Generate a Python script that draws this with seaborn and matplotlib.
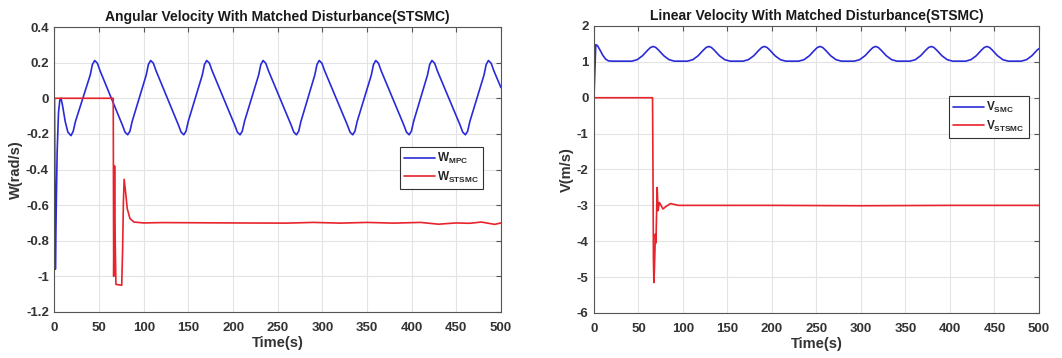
import matplotlib
matplotlib.use("Agg")
import matplotlib.pyplot as plt
import seaborn as sns
import pandas as pd

# ---------------- data ----------------
w_mpc_t = [0, 0.5, 1.0, 2.0, 3.0, 4.5, 6.0, 7.3, 9.0, 12.0, 15.0, 18.5, 21.0, 23.5,
           40.0, 42.5, 45.0, 48.0, 51.0,
           76.0, 79.0, 82.0, 84.5, 87.0,
           102.7, 105.2, 107.7, 110.7, 113.7,
           138.8, 141.8, 144.8, 147.3, 149.8,
           165.5, 168.0, 170.5, 173.5, 176.5,
           201.8, 204.8, 207.8, 210.3, 212.8,
           228.6, 231.1, 233.6, 236.6, 239.6,
           265.0, 268.0, 271.0, 273.5, 276.0,
           291.5, 294.0, 296.5, 299.5, 302.5,
           328.0, 331.0, 334.0, 336.5, 339.0,
           354.8, 357.3, 359.8, 362.8, 365.8,
           391.2, 394.2, 397.2, 399.7, 402.2,
           417.7, 420.2, 422.7, 425.7, 428.7,
           454.2, 457.2, 460.2, 462.7, 465.2,
           481.0, 483.5, 486.0, 489.0, 492.0,
           500.0]
w_mpc_v = [0, -0.5, -0.96, -0.6, -0.3, -0.08, -0.01, 0.0, -0.04, -0.13, -0.19, -0.21, -0.185, -0.13,
           0.13, 0.19, 0.212, 0.197, 0.155,
           -0.15, -0.19, -0.205, -0.185, -0.13,
           0.13, 0.19, 0.212, 0.197, 0.155,
           -0.15, -0.19, -0.205, -0.185, -0.13,
           0.13, 0.19, 0.212, 0.197, 0.155,
           -0.15, -0.19, -0.205, -0.185, -0.13,
           0.13, 0.19, 0.212, 0.197, 0.155,
           -0.15, -0.19, -0.205, -0.185, -0.13,
           0.13, 0.19, 0.212, 0.197, 0.155,
           -0.15, -0.19, -0.205, -0.185, -0.13,
           0.13, 0.19, 0.212, 0.197, 0.155,
           -0.15, -0.19, -0.205, -0.185, -0.13,
           0.13, 0.19, 0.212, 0.197, 0.155,
           -0.15, -0.19, -0.205, -0.185, -0.13,
           0.13, 0.19, 0.212, 0.197, 0.155,
           0.06]

w_stsmc_t = [0, 65.8, 66.3, 66.8, 67.3, 68.0, 68.8, 75.3, 76.3, 77.2, 78.0, 79.5, 81.5,
             84.5, 89.0, 100, 120, 200, 260, 290, 320, 350, 380, 410, 430, 450, 465,
             478, 493, 500]
w_stsmc_v = [0, 0, -1.0, -0.7, -0.38, -0.8, -1.045, -1.05, -0.85, -0.58, -0.455, -0.52,
             -0.62, -0.675, -0.695, -0.70, -0.698, -0.700, -0.701, -0.697, -0.701,
             -0.697, -0.701, -0.697, -0.707, -0.700, -0.702, -0.695, -0.708, -0.700]

v_smc_t = [0, 2.0, 4.0, 7.0, 10.0, 13.0, 16.0, 20.0,
           42.5, 48.5, 54.5, 60.5, 63.5, 66.5, 69.5, 72.5, 78.5, 84.5, 90.5,
           105.0, 111.0, 117.0, 123.0, 126.0, 129.0, 132.0, 135.0, 141.0, 147.0, 153.0,
           167.5, 173.5, 179.5, 185.5, 188.5, 191.5, 194.5, 197.5, 203.5, 209.5, 215.5,
           230.0, 236.0, 242.0, 248.0, 251.0, 254.0, 257.0, 260.0, 266.0, 272.0, 278.0,
           292.5, 298.5, 304.5, 310.5, 313.5, 316.5, 319.5, 322.5, 328.5, 334.5, 340.5,
           355.0, 361.0, 367.0, 373.0, 376.0, 379.0, 382.0, 385.0, 391.0, 397.0, 403.0,
           417.5, 423.5, 429.5, 435.5, 438.5, 441.5, 444.5, 447.5, 453.5, 459.5, 465.5,
           480.0, 486.0, 492.0, 498.0, 500.0]
v_smc_v = [0, 1.48, 1.45, 1.32, 1.18, 1.08, 1.03, 1.02,
           1.02, 1.06, 1.17, 1.33, 1.40, 1.43, 1.40, 1.33, 1.17, 1.06, 1.02,
           1.02, 1.06, 1.17, 1.33, 1.40, 1.43, 1.40, 1.33, 1.17, 1.06, 1.02,
           1.02, 1.06, 1.17, 1.33, 1.40, 1.43, 1.40, 1.33, 1.17, 1.06, 1.02,
           1.02, 1.06, 1.17, 1.33, 1.40, 1.43, 1.40, 1.33, 1.17, 1.06, 1.02,
           1.02, 1.06, 1.17, 1.33, 1.40, 1.43, 1.40, 1.33, 1.17, 1.06, 1.02,
           1.02, 1.06, 1.17, 1.33, 1.40, 1.43, 1.40, 1.33, 1.17, 1.06, 1.02,
           1.02, 1.06, 1.17, 1.33, 1.40, 1.43, 1.40, 1.33, 1.17, 1.06, 1.02,
           1.02, 1.06, 1.17, 1.33, 1.37]

v_stsmc_t = [0, 65.8, 66.3, 66.8, 67.3, 67.9, 69.0, 69.6, 70.2, 71.0, 72.0, 73.5,
             77.5, 81.0, 86.0, 95.0, 200, 300, 400, 500]
v_stsmc_v = [0, 0, -2.0, -4.5, -5.15, -4.8, -3.8, -4.05, -3.4, -2.5, -3.15, -2.92,
             -3.1, -3.03, -2.95, -3.0, -3.0, -3.01, -3.0, -3.0]

left_title = "Angular Velocity With Matched Disturbance(STSMC)"
right_title = "Linear Velocity With Matched Disturbance(STSMC)"
left_ylabel = "W(rad/s)"
right_ylabel = "V(m/s)"
xlabel = "Time(s)"
left_labels = [r"$\mathbf{W_{MPC}}$", r"$\mathbf{W_{STSMC}}$"]
right_labels = [r"$\mathbf{V_{SMC}}$", r"$\mathbf{V_{STSMC}}$"]
x_ticks = [0, 50, 100, 150, 200, 250, 300, 350, 400, 450, 500]
left_yticks = [0.4, 0.2, 0, -0.2, -0.4, -0.6, -0.8, -1, -1.2]
right_yticks = [2, 1, 0, -1, -2, -3, -4, -5, -6]

# ---------------- style ----------------
sns.set_style("whitegrid", {"grid.color": "#e3e3e3", "axes.edgecolor": "#555555"})
plt.rcParams["font.family"] = ["Liberation Sans", "DejaVu Sans"]
plt.rcParams["font.weight"] = "bold"
plt.rcParams["mathtext.fontset"] = "custom"
plt.rcParams["mathtext.bf"] = "Liberation Sans:bold"
plt.rcParams["mathtext.rm"] = "Liberation Sans"

BLUE = "#2a2ad8"
RED = "#e8232b"

fig = plt.figure(figsize=(10.62, 3.58), dpi=100)
axL = fig.add_axes([0.0513, 0.1285, 0.4204, 0.796])
axR = fig.add_axes([0.5593, 0.1257, 0.4190, 0.8017])


def fmt(v):
    return f"{v:g}"


def style(ax, yticks, ylim, title, ylabel):
    ax.set_xlim(0, 500)
    ax.set_ylim(*ylim)
    ax.set_xticks(x_ticks)
    ax.set_xticklabels([fmt(v) for v in x_ticks])
    ax.set_yticks(yticks)
    ax.set_yticklabels([fmt(v) for v in yticks])
    ax.tick_params(direction="in", top=True, right=True, length=3.5, width=0.8,
                   color="#555555", labelcolor="#333333", labelsize=9.5)
    ax.tick_params(axis="x", pad=7)
    ax.tick_params(axis="y", pad=4)
    for lab in ax.get_xticklabels() + ax.get_yticklabels():
        lab.set_fontweight("bold")
    for sp in ax.spines.values():
        sp.set_visible(True)
        sp.set_linewidth(0.8)
        sp.set_color("#555555")
    ax.grid(True, color="#e3e3e3", linewidth=0.8)
    ax.set_title(title, fontsize=10, fontweight="bold", color="#1a1a1a", pad=4)
    ax.set_xlabel(xlabel, fontsize=10.5, fontweight="bold", color="#333333", labelpad=2)
    ax.set_ylabel(ylabel, fontsize=10.5, fontweight="bold", color="#333333", labelpad=2)


dfL1 = pd.DataFrame({"t": w_mpc_t, "v": w_mpc_v})
dfL2 = pd.DataFrame({"t": w_stsmc_t, "v": w_stsmc_v})
dfR1 = pd.DataFrame({"t": v_smc_t, "v": v_smc_v})
dfR2 = pd.DataFrame({"t": v_stsmc_t, "v": v_stsmc_v})

sns.lineplot(data=dfL1, x="t", y="v", ax=axL, color=BLUE, linewidth=1.2,
             sort=False, estimator=None, label=left_labels[0])
sns.lineplot(data=dfL2, x="t", y="v", ax=axL, color=RED, linewidth=1.2,
             sort=False, estimator=None, label=left_labels[1])
sns.lineplot(data=dfR1, x="t", y="v", ax=axR, color=BLUE, linewidth=1.2,
             sort=False, estimator=None, label=right_labels[0])
sns.lineplot(data=dfR2, x="t", y="v", ax=axR, color=RED, linewidth=1.2,
             sort=False, estimator=None, label=right_labels[1])

style(axL, left_yticks, (-1.2, 0.4), left_title, left_ylabel)
style(axR, right_yticks, (-6, 2), right_title, right_ylabel)

for ax, anchor in ((axL, (0.96, 0.58)), (axR, (0.978, 0.757))):
    leg = ax.legend(loc="upper right", bbox_to_anchor=anchor, fontsize=8.5,
                    frameon=True, fancybox=False, framealpha=1, edgecolor="#333333",
                    handlelength=2.6, handletextpad=0.2, borderpad=0.35,
                    labelspacing=0.3, borderaxespad=0)
    leg.get_frame().set_linewidth(0.8)

fig.savefig("out.png", dpi=100, facecolor="white")
